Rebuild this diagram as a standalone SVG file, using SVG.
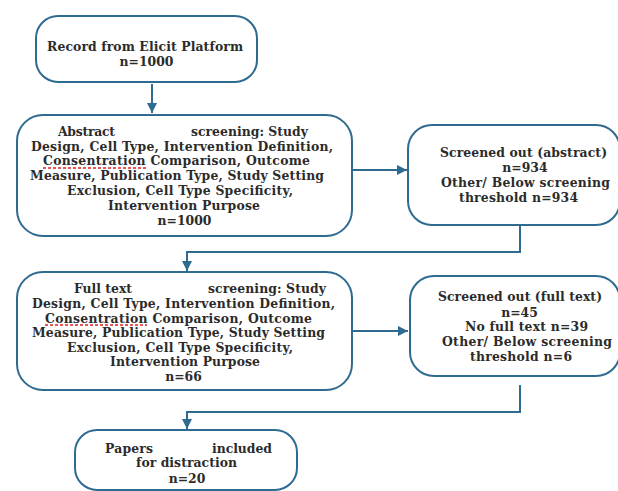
<svg xmlns="http://www.w3.org/2000/svg" width="618" height="491" viewBox="0 0 618 491">
<style>
.box{fill:#ffffff;stroke:#2f6a91;stroke-width:2}
.t{font-family:"DejaVu Serif","Liberation Serif",serif;font-size:12.4px;font-weight:bold;fill:#2b2b2b}
.m{text-anchor:middle}
.c{fill:none;stroke:#2f6a91;stroke-width:2}
.u{stroke:#e02020;stroke-width:1.5;stroke-dasharray:3 2;fill:none}
</style>
<defs>
<marker id="ah" markerUnits="userSpaceOnUse" markerWidth="12" markerHeight="12" viewBox="0 0 12 12" refX="11" refY="6" orient="auto">
<path d="M1,1 L11,6 L1,11 z" fill="#2f6a91"/>
</marker>
</defs>
<rect width="618" height="491" fill="#ffffff"/>
<g id="connectors">
<path class="c" d="M152,84 V113" marker-end="url(#ah)"/>
<path class="c" d="M352,170 H407" marker-end="url(#ah)"/>
<path class="c" d="M520,225 V252 H187 V271" marker-end="url(#ah)"/>
<path class="c" d="M352,331 H408" marker-end="url(#ah)"/>
<path class="c" d="M520,385 V412 H187 V429" marker-end="url(#ah)"/>
</g>
<g id="n1">
<rect class="box" x="36" y="16" width="221" height="66" rx="22"/>
<text class="t" x="47" y="51" textLength="196">Record from Elicit Platform</text>
<text class="t m" x="146.5" y="66">n=1000</text>
</g>
<g id="n2">
<rect class="box" x="17" y="115" width="335" height="121" rx="26"/>
<text class="t" x="58" y="136" textLength="57">Abstract</text>
<text class="t" x="191" y="136" textLength="117">screening: Study</text>
<text class="t" x="31" y="151" textLength="302">Design, Cell Type, Intervention Definition,</text>
<text class="t" x="43" y="165" textLength="267">Consentration Comparison, Outcome</text>
<text class="t" x="30" y="180" textLength="294">Measure, Publication Type, Study Setting</text>
<text class="t" x="67" y="195" textLength="226">Exclusion, Cell Type Specificity,</text>
<text class="t" x="108" y="210" textLength="152">Intervention Purpose</text>
<text class="t m" x="184.5" y="225">n=1000</text>
<path class="u" d="M43,168 H146"/>
</g>
<g id="n3">
<rect class="box" x="408" y="125" width="212" height="100" rx="24"/>
<text class="t" x="440" y="156.5" textLength="167">Screened out (abstract)</text>
<text class="t m" x="525" y="171.5">n=934</text>
<text class="t" x="441" y="187" textLength="169">Other/ Below screening</text>
<text class="t" x="459" y="201.5" textLength="119">threshold n=934</text>
</g>
<g id="n4">
<rect class="box" x="17" y="272" width="335" height="118" rx="26"/>
<text class="t" x="74" y="293" textLength="58">Full text</text>
<text class="t" x="208" y="293" textLength="118">screening: Study</text>
<text class="t" x="32" y="308" textLength="303">Design, Cell Type, Intervention Definition,</text>
<text class="t" x="45" y="323" textLength="267">Consentration Comparison, Outcome</text>
<text class="t" x="32" y="337" textLength="293">Measure, Publication Type, Study Setting</text>
<text class="t" x="67" y="352" textLength="226">Exclusion, Cell Type Specificity,</text>
<text class="t" x="110" y="366" textLength="150">Intervention Purpose</text>
<text class="t m" x="183.5" y="381">n=66</text>
<path class="u" d="M45,325 H147"/>
</g>
<g id="n5">
<rect class="box" x="410" y="276" width="210" height="100" rx="24"/>
<text class="t" x="438" y="301" textLength="164">Screened out (full text)</text>
<text class="t m" x="519.5" y="316.5">n=45</text>
<text class="t" x="465" y="331" textLength="123">No full text n=39</text>
<text class="t" x="442" y="346" textLength="170">Other/ Below screening</text>
<text class="t" x="470" y="361" textLength="102">threshold n=6</text>
</g>
<g id="n6">
<rect class="box" x="75" y="430" width="222" height="60" rx="22"/>
<text class="t" x="105" y="453" textLength="48">Papers</text>
<text class="t" x="212" y="453" textLength="60">included</text>
<text class="t" x="136" y="467" textLength="101">for distraction</text>
<text class="t m" x="187" y="483">n=20</text>
</g>
</svg>
